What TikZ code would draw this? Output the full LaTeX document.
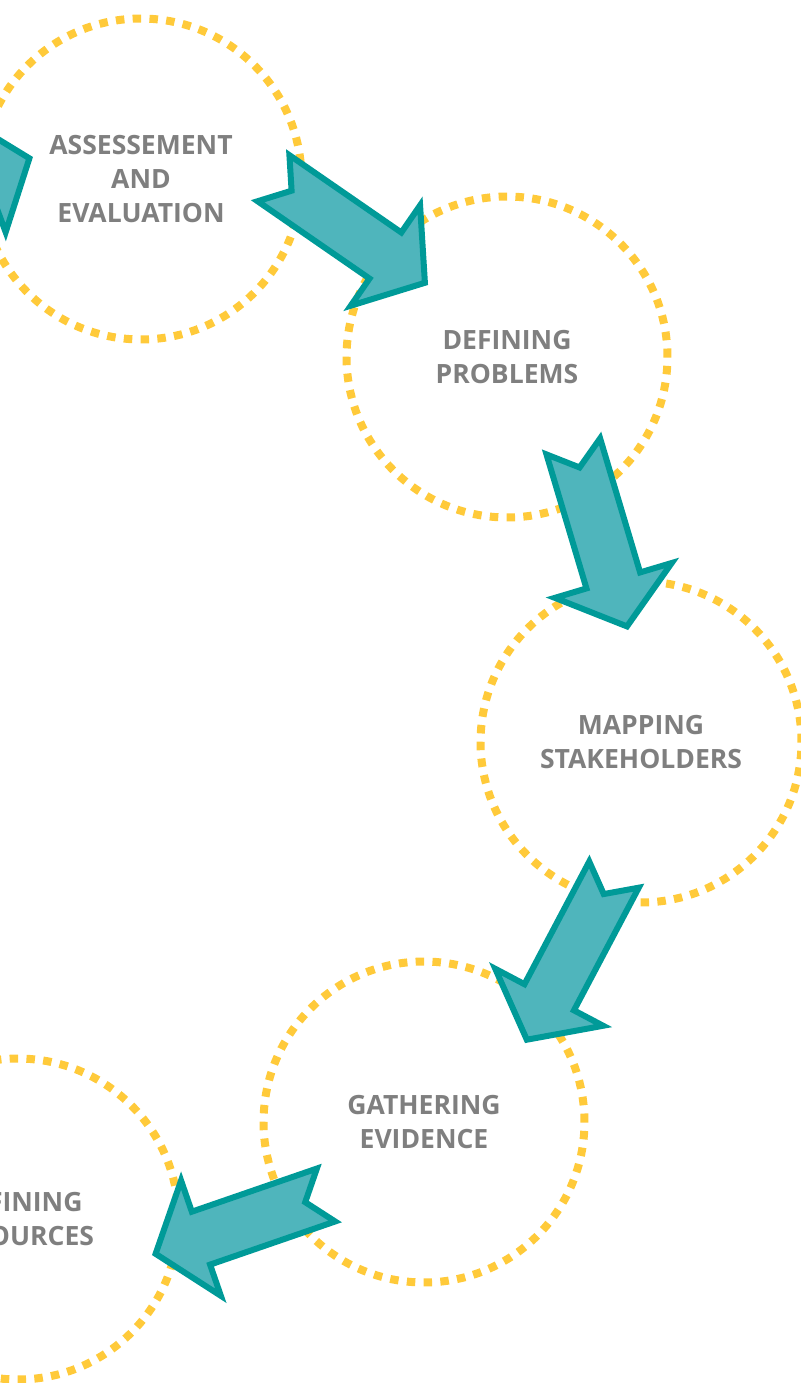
\documentclass[tikz,border=0pt]{standalone}
\usepackage{fontspec}
\setsansfont{Open Sans}
\usetikzlibrary{calc}
\definecolor{dotyellow}{HTML}{FFCA3A}
\definecolor{tealfill}{HTML}{4FB5BC}
\definecolor{tealline}{HTML}{009A98}
\definecolor{labelgray}{HTML}{7F7F7F}
\begin{document}
\begin{tikzpicture}[x=0.02cm,y=-0.02cm,
  stage/.style={circle,draw=dotyellow,line width=0.16cm,dash pattern=on 0.17cm off 0.166cm,
    minimum size=6.42cm,inner sep=0pt,align=center,text=labelgray,
    font=\sffamily\bfseries\fontsize{15.1}{19.3}\selectfont},
  flow/.style={draw=tealline,fill=tealfill,line width=0.12cm,line join=miter}]
\useasboundingbox (0,0) rectangle (801,1383);
\clip (0,0) rectangle (801,1383);

% stages
\node[stage] (assess) at (141,179) {ASSESSEMENT\\AND\\EVALUATION};
\node[stage] (problems) at (507,357) {DEFINING\\PROBLEMS};
\node[stage] (mapping) at (641,742) {MAPPING\\STAKEHOLDERS};
\node[stage] (evidence) at (424,1122) {GATHERING\\EVIDENCE};
\node[stage] (resources) at (18,1219) {DEFINING\\RESOURCES};

% flow arrows
\coordinate (t01) at (-142,222);     \coordinate (p01) at (29.4,158.3);
\coordinate (t12) at (273.5,178.2);  \coordinate (p12) at (424.9,282.8);
\coordinate (t23) at (573.3,446.4);  \coordinate (p23) at (627,626.4);
\coordinate (t34) at (614,874.6);    \coordinate (p34) at (526.8,1039.7);
\coordinate (t45) at (326,1195);     \coordinate (p45) at (155.6,1253.8);
\foreach \t/\p in {t01/p01,t12/p12,t23/p23,t34/p34,t45/p45}{
  \coordinate (\t base) at ($(\p)!0.96cm!(\t)$);
  \draw[flow] ($(\t)!0.56cm!90:(\p)$) -- ($(\t)!0.44cm!(\p)$) -- ($(\t)!0.56cm!-90:(\p)$)
    -- ($(\t base)!0.56cm!-90:(\p)$) -- ($(\t base)!1.22cm!-90:(\p)$) -- (\p)
    -- ($(\t base)!1.22cm!90:(\p)$) -- ($(\t base)!0.56cm!90:(\p)$) -- cycle;
}
\end{tikzpicture}
\end{document}
